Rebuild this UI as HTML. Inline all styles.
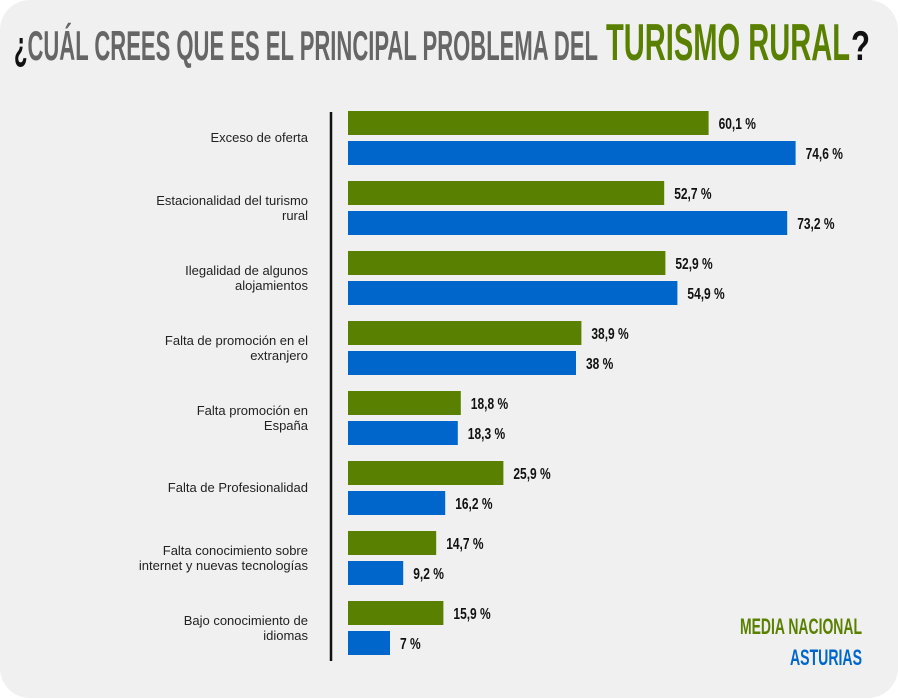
<!DOCTYPE html>
<html><head><meta charset="utf-8"><style>
html,body{margin:0;padding:0;background:#fff;}
svg{display:block;font-family:"Liberation Sans",sans-serif;}
</style></head><body>
<svg id="chart" width="900" height="700" viewBox="0 0 900 700">
<rect x="0" y="0" width="898" height="698" rx="30" fill="#f0f0f0"/>
<g>
<text x="14" y="60" font-size="42" font-weight="bold" fill="#666" textLength="584" lengthAdjust="spacingAndGlyphs"><tspan fill="#111">¿</tspan>CUÁL CREES QUE ES EL PRINCIPAL PROBLEMA DEL</text>
<text x="606" y="60" font-size="52" font-weight="bold" fill="#5a8000" textLength="244" lengthAdjust="spacingAndGlyphs">TURISMO RURAL</text>
<text x="851" y="60" font-size="42" font-weight="bold" fill="#111" textLength="19" lengthAdjust="spacingAndGlyphs">?</text>
</g>
<line x1="331" y1="112" x2="331" y2="661" stroke="#111" stroke-width="2.5"/>
<g id="bars"></g>
<text x="862" y="634" text-anchor="end" font-size="22" font-weight="bold" fill="#5a8000" textLength="122" lengthAdjust="spacingAndGlyphs">MEDIA NACIONAL</text>
<text x="862" y="665" text-anchor="end" font-size="22" font-weight="bold" fill="#0066cc" textLength="72" lengthAdjust="spacingAndGlyphs">ASTURIAS</text>
</svg>
<script>
const categories=[["Exceso de oferta"],["Estacionalidad del turismo","rural"],["Ilegalidad de algunos","alojamientos"],["Falta de promoción en el","extranjero"],["Falta promoción en","España"],["Falta de Profesionalidad"],["Falta conocimiento sobre","internet y nuevas tecnologías"],["Bajo conocimiento de","idiomas"]];
const nacional=[60.1,52.7,52.9,38.9,18.8,25.9,14.7,15.9];
const asturias=[74.6,73.2,54.9,38,18.3,16.2,9.2,7];
const nacionalLabels=["60,1 %","52,7 %","52,9 %","38,9 %","18,8 %","25,9 %","14,7 %","15,9 %"];
const asturiasLabels=["74,6 %","73,2 %","54,9 %","38 %","18,3 %","16,2 %","9,2 %","7 %"];
const NS="http://www.w3.org/2000/svg";
const g=document.getElementById('bars');
const x0=348, pxPer=6;
function xScale(v){return x0+v*pxPer;}
function rowY(i){return 111+i*70;}
function mk(t,a){const e=document.createElementNS(NS,t);for(const k in a)e.setAttribute(k,a[k]);return e;}
categories.forEach((c,i)=>{
  const y=rowY(i);
  const lbl=mk('text',{x:308,'text-anchor':'end','font-size':13,fill:'#222'});
  
  
  const cy=y+27;
  c.forEach((line,j)=>{const ts=mk('tspan',{x:308,y:(c.length===1?cy+4:cy-3+j*15)});ts.textContent=line;lbl.appendChild(ts);});
  g.appendChild(lbl);
  [[nacional,nacionalLabels,'#5a8000',y,'bar-nacional'],[asturias,asturiasLabels,'#0066cc',y+30,'bar-asturias']].forEach(([arr,labs,col,by,nm])=>{
    const r=mk('rect',{x:x0,y:by,width:xScale(arr[i])-x0,height:24,fill:col});
    
    
    g.appendChild(r);
    const t=mk('text',{x:xScale(arr[i])+10,y:by+18,'font-size':16,'font-weight':'bold',fill:'#111'});
    
    
    t.setAttribute('transform','translate('+(xScale(arr[i])+10)+',0) scale(0.75,1) translate('+(-(xScale(arr[i])+10))+',0)');
    t.textContent=labs[i];
    g.appendChild(t);
  });
});
</script>
</body></html>
